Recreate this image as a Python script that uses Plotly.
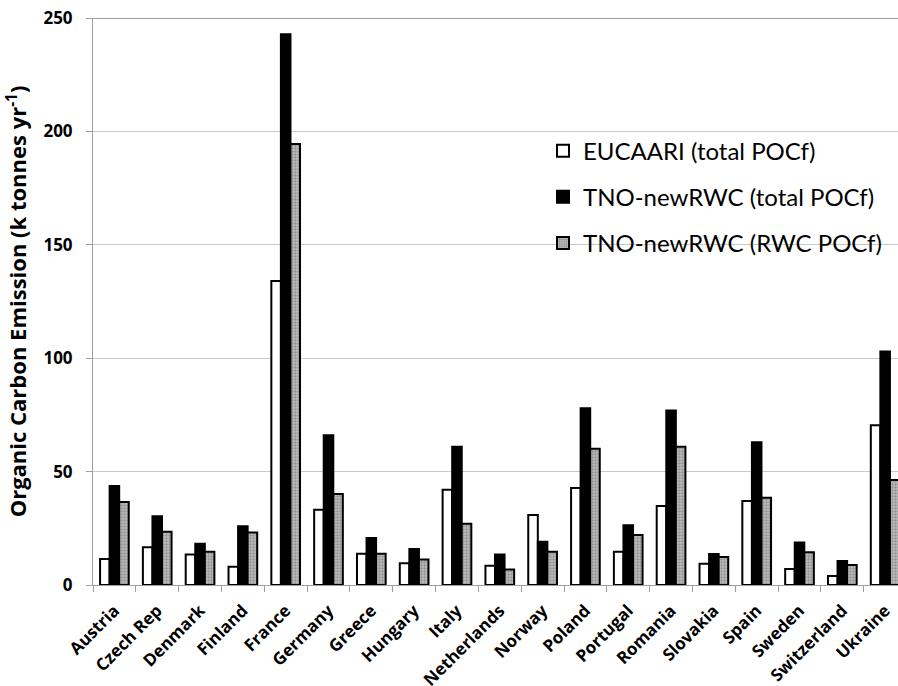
import plotly.graph_objects as go

countries = ["Austria", "Czech Rep", "Denmark", "Finland", "France", "Germany", "Greece",
             "Hungary", "Italy", "Netherlands", "Norway", "Poland", "Portugal", "Romania",
             "Slovakia", "Spain", "Sweden", "Switzerland", "Ukraine"]
eucaari_total = [11.5, 16.6, 13.5, 8.1, 134.0, 33.2, 13.8, 9.6, 42.0, 8.5, 30.9, 42.8, 14.7,
                 34.8, 9.4, 37.0, 7.1, 4.0, 70.4]
tno_total = [43.6, 30.3, 18.2, 25.9, 242.8, 66.0, 20.7, 15.9, 61.0, 13.4, 19.1, 77.9, 26.3,
             76.9, 13.7, 62.9, 18.7, 10.6, 103.0]
tno_rwc = [36.6, 23.5, 14.7, 23.1, 194.4, 40.1, 13.8, 11.2, 27.0, 6.8, 14.7, 60.1, 22.0,
           61.0, 12.3, 38.5, 14.4, 8.8, 46.3]
y_ticks = [0, 50, 100, 150, 200, 250]

BOLD_FONT = "Open Sans"
LEG_FONT = "Lato"

fig = go.Figure()
fig.add_trace(go.Bar(x=countries, y=eucaari_total, name="EUCAARI (total POCf)",
                     legendgroup="a",
                     marker=dict(color="white", line=dict(color="black", width=2))))
fig.add_trace(go.Bar(x=countries, y=tno_total, name="TNO-newRWC (total POCf)",
                     legendgroup="b",
                     marker=dict(color="black", line=dict(color="black", width=2))))
fig.add_trace(go.Bar(x=countries, y=tno_rwc, name="TNO-newRWC (RWC POCf)",
                     legendgroup="c",
                     marker=dict(color="#a8a8a8", line=dict(color="black", width=2),
                                 pattern=dict(shape=".", fgcolor="#666666", bgcolor="#bdbdbd",
                                              size=3, solidity=0.45))))

fig.update_layout(
    width=898, height=686,
    margin=dict(l=93, r=0, t=18, b=101, autoexpand=False),
    paper_bgcolor="white", plot_bgcolor="white",
    barmode="group", bargap=0.33, bargroupgap=0,
    font=dict(family=BOLD_FONT, color="black"),
    showlegend=True,
    legend=dict(x=0.559, y=0.805, xanchor="left", yanchor="top",
                font=dict(family=LEG_FONT, size=24), tracegroupgap=12,
                bgcolor="rgba(0,0,0,0)", itemwidth=30),
    xaxis=dict(range=[-0.5, 18.30], tickangle=-45, ticks="outside", tickson="boundaries",
               ticklen=6, tickcolor="#a0a0a0", showline=True, linecolor="#a0a0a0",
               linewidth=1, showgrid=False, ticklabelstandoff=8, automargin=False,
               tickfont=dict(family=BOLD_FONT, size=17, color="black", weight="bold")),
    yaxis=dict(range=[0, 250], tickvals=y_ticks, ticks="outside", ticklen=6,
               tickcolor="#a0a0a0", showline=True, linecolor="#a0a0a0", linewidth=1,
               gridcolor="#c8c8c8", gridwidth=1, zeroline=False, automargin=False,
               ticklabelstandoff=10, ticklabeloverflow="allow",
               tickfont=dict(family=BOLD_FONT, size=17, color="black", weight="bold"),
               title=dict(text="Organic Carbon Emission (k tonnes yr<sup>-1</sup>)",
                          font=dict(family=BOLD_FONT, size=22, color="black", weight="bold"),
                          standoff=10)),
    shapes=[dict(type="line", xref="paper", yref="y", x0=0, x1=1, y0=250, y1=250,
                 line=dict(color="#404040", width=1))],
)

fig.write_html("out.html", config={"displayModeBar": False},
               post_script="document.body.style.margin='0px';")
